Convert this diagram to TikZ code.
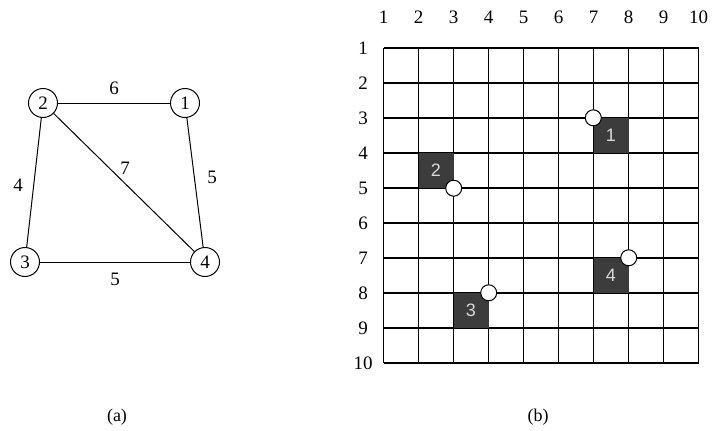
\documentclass[tikz,border=0pt]{standalone}
\usepackage{fontspec}
\setmainfont{Liberation Serif}
\newfontfamily\numsans{Liberation Sans}
\definecolor{blkfill}{HTML}{3C3C3C}
\definecolor{blktext}{HTML}{D8D8D8}
\begin{document}
\begin{tikzpicture}[x=1pt,y=-1pt,
  gnode/.style={draw,circle,line width=1pt,minimum size=29pt,inner sep=0pt,font=\fontsize{19}{19}\selectfont},
  gedge/.style={line width=1pt},
  wlabel/.style={font=\fontsize{19}{19}\selectfont,inner sep=0pt},
  gridline/.style={line width=1.2pt},
  blk/.style={fill=blkfill,minimum size=35pt,inner sep=0pt,text=blktext,font=\numsans\fontsize{18}{18}\selectfont},
  pin/.style={draw,fill=white,circle,line width=1pt,minimum size=16pt,inner sep=0pt},
  axlabel/.style={font=\fontsize{19}{19}\selectfont,inner sep=0pt},
  caption/.style={font=\fontsize{18}{18}\selectfont,inner sep=0pt}]
\useasboundingbox (0,0) rectangle (713,431);
% ---- (a) graph ----
\node[gnode] (n2) at (43,103) {2};
\node[gnode] (n1) at (185,103) {1};
\node[gnode] (n3) at (25,262) {3};
\node[gnode] (n4) at (205,262) {4};
\draw[gedge] (n2) -- (n1);
\draw[gedge] (n2) -- (n3);
\draw[gedge] (n2) -- (n4);
\draw[gedge] (n1) -- (n4);
\draw[gedge] (n3) -- (n4);
\node[wlabel] (w6) at (114,88) {6};
\node[wlabel] (w4) at (18,185) {4};
\node[wlabel] (w7) at (125,168) {7};
\node[wlabel] (w5r) at (212,177) {5};
\node[wlabel] (w5b) at (115,279) {5};
\node[caption] (capa) at (117,417) {(a)};
% ---- (b) grid ----
\foreach \i in {1,...,10}{
  \pgfmathsetmacro{\gx}{383.5+35*(\i-1)}
  \pgfmathsetmacro{\gy}{48+35*(\i-1)}
  \draw[gridline] (\gx,48) -- (\gx,363);
  \draw[gridline] (383.5,\gy) -- (698.5,\gy);
  \node[axlabel] (col\i) at (\gx,17) {\i};
  \node[axlabel] (row\i) at (363,\gy) {\i};
}
% blocks: centres
\node[blk] (b1) at (401+35*6,65.5+35*2) {1};
\node[blk] (b2) at (401+35*1,65.5+35*3) {2};
\node[blk] (b3) at (401+35*2,65.5+35*7) {3};
\node[blk] (b4) at (401+35*6,65.5+35*6) {4};
\node[pin] (p1) at (b1.north west) {};
\node[pin] (p2) at (b2.south east) {};
\node[pin] (p3) at (b3.north east) {};
\node[pin] (p4) at (b4.north east) {};
\node[caption] (capb) at (538,417) {(b)};
\end{tikzpicture}
\end{document}
